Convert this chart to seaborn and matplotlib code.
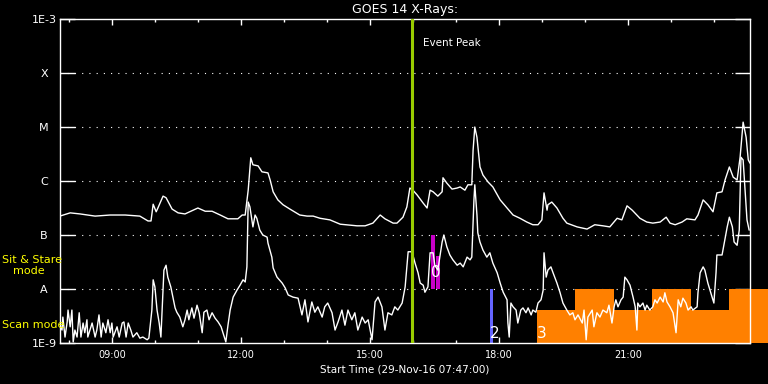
import numpy as np
import matplotlib
matplotlib.use("Agg")
import matplotlib.pyplot as plt
import matplotlib.ticker as mticker
import seaborn as sns

# GOES 14 long channel (1-8 A): hour of day, log10 flux (W/m^2)
long_hours = [7.78, 8.02, 8.25, 8.60, 8.95, 9.30, 9.64, 9.83, 9.90, 9.95,
              10.02, 10.06, 10.18, 10.25, 10.39, 10.53, 10.69, 10.99, 11.16, 11.32,
              11.51, 11.69, 11.92, 12.02, 12.09, 12.16, 12.22, 12.27, 12.39, 12.48,
              12.62, 12.67, 12.74, 12.85, 12.97, 13.13, 13.36, 13.53, 13.67, 13.83,
              14.06, 14.30, 14.69, 14.88, 15.06, 15.23, 15.34, 15.53, 15.62, 15.76,
              15.85, 15.92, 15.99, 16.09, 16.23, 16.32, 16.39, 16.46, 16.57, 16.67,
              16.69, 16.78, 16.90, 17.02, 17.09, 17.20, 17.27, 17.36, 17.39, 17.43,
              17.48, 17.55, 17.62, 17.74, 17.85, 18.02, 18.18, 18.32, 18.48, 18.64,
              18.78, 18.90, 18.99, 19.04, 19.11, 19.13, 19.22, 19.34, 19.48, 19.57,
              19.81, 20.04, 20.22, 20.41, 20.57, 20.74, 20.85, 20.97, 21.09, 21.27,
              21.43, 21.57, 21.74, 21.88, 21.97, 22.09, 22.25, 22.36, 22.55, 22.62,
              22.74, 22.85, 22.97, 23.06, 23.18, 23.25, 23.35, 23.44, 23.53, 23.60,
              23.67, 23.74, 23.79, 23.83]
long_logflux = [-6.65, -6.59, -6.61, -6.65, -6.63, -6.63, -6.65, -6.74, -6.74, -6.43,
                -6.57, -6.50, -6.28, -6.31, -6.52, -6.59, -6.61, -6.50, -6.56, -6.56,
                -6.63, -6.70, -6.70, -6.63, -6.63, -6.17, -5.57, -5.70, -5.72, -5.83,
                -5.85, -5.98, -6.20, -6.35, -6.44, -6.52, -6.63, -6.65, -6.65, -6.69,
                -6.72, -6.80, -6.83, -6.83, -6.78, -6.63, -6.70, -6.78, -6.78, -6.67,
                -6.48, -6.13, -6.17, -6.26, -6.41, -6.50, -6.17, -6.20, -6.28, -6.20,
                -5.94, -6.04, -6.15, -6.13, -6.11, -6.17, -6.07, -6.07, -5.43, -5.00,
                -5.19, -5.74, -5.89, -6.02, -6.11, -6.35, -6.50, -6.63, -6.69, -6.76,
                -6.81, -6.81, -6.72, -6.22, -6.54, -6.44, -6.39, -6.50, -6.69, -6.78,
                -6.85, -6.89, -6.81, -6.83, -6.85, -6.69, -6.72, -6.46, -6.54, -6.69,
                -6.76, -6.78, -6.76, -6.67, -6.78, -6.81, -6.76, -6.70, -6.72, -6.63,
                -6.35, -6.44, -6.57, -6.22, -6.20, -5.98, -5.74, -5.93, -5.98, -5.56,
                -4.91, -5.19, -5.61, -5.67]

# GOES 14 short channel (0.5-4 A)
short_hours = [7.78, 7.83, 7.85, 7.90, 7.95, 7.97, 8.02, 8.06, 8.09, 8.13,
               8.18, 8.23, 8.27, 8.32, 8.36, 8.41, 8.43, 8.48, 8.53, 8.60,
               8.64, 8.69, 8.74, 8.78, 8.85, 8.90, 8.95, 8.99, 9.02, 9.11,
               9.16, 9.23, 9.27, 9.32, 9.37, 9.43, 9.48, 9.57, 9.64, 9.71,
               9.81, 9.85, 9.92, 9.95, 9.99, 10.04, 10.09, 10.13, 10.18, 10.20,
               10.25, 10.29, 10.36, 10.41, 10.46, 10.50, 10.57, 10.64, 10.69, 10.74,
               10.78, 10.85, 10.90, 10.97, 11.02, 11.09, 11.13, 11.20, 11.25, 11.32,
               11.39, 11.46, 11.53, 11.57, 11.64, 11.69, 11.74, 11.81, 11.90, 11.97,
               12.04, 12.09, 12.13, 12.16, 12.20, 12.27, 12.32, 12.36, 12.43, 12.50,
               12.60, 12.62, 12.71, 12.74, 12.83, 12.95, 13.02, 13.09, 13.20, 13.32,
               13.41, 13.48, 13.55, 13.64, 13.71, 13.78, 13.88, 13.94, 14.01, 14.11,
               14.18, 14.25, 14.34, 14.41, 14.48, 14.57, 14.64, 14.71, 14.81, 14.88,
               14.95, 15.04, 15.11, 15.18, 15.27, 15.34, 15.41, 15.50, 15.57, 15.64,
               15.74, 15.81, 15.88, 15.97, 16.04, 16.11, 16.16, 16.23, 16.27, 16.34,
               16.39, 16.46, 16.50, 16.57, 16.67, 16.71, 16.78, 16.85, 16.92, 17.02,
               17.09, 17.16, 17.25, 17.32, 17.36, 17.41, 17.43, 17.48, 17.50, 17.55,
               17.62, 17.71, 17.78, 17.85, 17.95, 18.02, 18.09, 18.18, 18.20, 18.23,
               18.27, 18.32, 18.39, 18.43, 18.50, 18.55, 18.62, 18.67, 18.74, 18.78,
               18.85, 18.90, 18.97, 19.02, 19.04, 19.09, 19.13, 19.20, 19.25, 19.34,
               19.41, 19.48, 19.57, 19.64, 19.71, 19.76, 19.83, 19.93, 19.97, 20.02,
               20.06, 20.16, 20.20, 20.27, 20.34, 20.41, 20.50, 20.55, 20.62, 20.67,
               20.71, 20.76, 20.83, 20.88, 20.92, 20.97, 21.04, 21.11, 21.16, 21.20,
               21.22, 21.27, 21.34, 21.39, 21.43, 21.50, 21.57, 21.62, 21.67, 21.74,
               21.81, 21.85, 21.90, 21.97, 22.04, 22.11, 22.16, 22.22, 22.27, 22.34,
               22.39, 22.46, 22.50, 22.60, 22.62, 22.67, 22.74, 22.78, 22.85, 22.95,
               22.99, 23.04, 23.06, 23.18, 23.23, 23.30, 23.35, 23.42, 23.46, 23.53,
               23.58, 23.62, 23.67, 23.72, 23.76, 23.81]
short_logflux = [-8.67, -8.76, -8.52, -8.89, -8.61, -8.39, -8.70, -8.39, -8.98, -8.76,
                 -8.89, -8.44, -8.89, -8.63, -8.81, -8.57, -8.89, -8.76, -8.63, -8.89,
                 -8.76, -8.48, -8.89, -8.63, -8.81, -8.57, -8.81, -8.63, -8.89, -8.70,
                 -8.89, -8.63, -8.61, -8.89, -8.63, -8.76, -8.89, -8.81, -8.91, -8.89,
                 -8.94, -8.91, -8.39, -7.83, -7.96, -8.39, -8.63, -8.89, -8.02, -7.65,
                 -7.56, -7.78, -7.96, -8.15, -8.35, -8.43, -8.52, -8.70, -8.57, -8.39,
                 -8.57, -8.35, -8.54, -8.30, -8.44, -8.81, -8.43, -8.39, -8.57, -8.44,
                 -8.54, -8.61, -8.70, -8.80, -8.98, -8.67, -8.39, -8.15, -8.02, -7.93,
                 -7.83, -7.87, -7.59, -6.39, -6.48, -6.85, -6.63, -6.69, -6.91, -7.00,
                 -7.04, -7.15, -7.41, -7.61, -7.78, -7.89, -7.98, -8.11, -8.15, -8.17,
                 -8.48, -8.20, -8.61, -8.24, -8.43, -8.33, -8.52, -8.33, -8.26, -8.44,
                 -8.76, -8.61, -8.39, -8.67, -8.39, -8.57, -8.44, -8.76, -8.52, -8.63,
                 -8.57, -8.94, -8.24, -8.15, -8.33, -8.76, -8.44, -8.48, -8.33, -8.39,
                 -8.26, -7.96, -7.31, -7.31, -7.52, -7.70, -7.89, -7.93, -8.06, -7.96,
                 -7.33, -7.33, -7.56, -7.65, -7.13, -7.00, -7.22, -7.37, -7.46, -7.56,
                 -7.52, -7.59, -7.41, -7.46, -7.41, -6.35, -6.07, -6.63, -6.96, -7.13,
                 -7.28, -7.41, -7.33, -7.52, -7.70, -7.89, -8.06, -8.20, -8.63, -8.89,
                 -8.26, -8.33, -8.39, -8.63, -8.39, -8.35, -8.44, -8.35, -8.48, -8.39,
                 -8.43, -8.26, -8.20, -8.02, -7.33, -7.78, -7.65, -7.59, -7.70, -7.89,
                 -8.06, -8.26, -8.39, -8.48, -8.44, -8.57, -8.48, -8.63, -8.39, -8.94,
                 -8.52, -8.39, -8.70, -8.44, -8.52, -8.39, -8.44, -8.30, -8.63, -8.33,
                 -8.20, -8.33, -8.20, -8.15, -7.78, -7.83, -7.93, -8.15, -8.33, -8.76,
                 -8.26, -8.33, -8.26, -8.39, -8.30, -8.39, -8.33, -8.20, -8.26, -8.15,
                 -8.24, -8.07, -8.24, -8.33, -8.44, -8.81, -8.20, -8.33, -8.17, -8.26,
                 -8.39, -8.33, -8.39, -8.33, -8.07, -7.70, -7.59, -7.65, -7.89, -8.15,
                 -8.26, -7.70, -7.37, -7.37, -7.15, -6.85, -6.67, -6.85, -7.13, -7.19,
                 -6.91, -5.56, -5.61, -6.22, -6.72, -6.91]

start_hour = 7 + 47 / 60
end_hour = 23.83
peak_hour = 15.97

# observation markers (sit & stare = 0, scan = 2, 3)
obs0_start = [16.42, 16.52]
obs0_end = [16.50, 16.61]
obs0_top = [-7.00, -7.39]
obs2_start = [17.78]
obs2_end = [17.85]
scan_edges = [18.87, 19.76, 20.67, 21.55, 22.46, 23.35, 24.25]
scan_levels = [-8.39, -8.00, -8.39, -8.00, -8.39, -8.00]

ytick_exp = [-9, -8, -7, -6, -5, -4, -3]
ytick_labels = ["1E-9", "A", "B", "C", "M", "X", "1E-3"]
xtick_hours = [9, 12, 15, 18, 21]
xtick_labels = ["09:00", "12:00", "15:00", "18:00", "21:00"]
xminor_hours = list(range(8, 24))

sns.set_theme(style="dark", rc={
    "figure.facecolor": "black", "axes.facecolor": "black",
    "axes.edgecolor": "white", "text.color": "white",
    "axes.labelcolor": "white", "xtick.color": "white",
    "ytick.color": "white", "axes.grid": False,
})
plt.rcParams["font.family"] = ["DejaVu Sans"]

fig = plt.figure(figsize=(7.68, 3.84), dpi=100)
ax = fig.add_axes([60 / 768, 41 / 384, 690 / 768, 324 / 384])
ax.set_yscale("log")

# scan-mode blocks (run past the right edge like the original)
fill_levels = 10.0 ** np.array(scan_levels + [scan_levels[-1]])
ax.fill_between(scan_edges, fill_levels, 1e-9, step="post", color="#ff8000",
                linewidth=0, zorder=1.5, clip_on=False)

# sit & stare bars and the short blue scan bar
ax.bar(obs0_start, 10.0 ** np.array(obs0_top) - 1e-8,
       width=np.subtract(obs0_end, obs0_start), bottom=1e-8, align="edge",
       color="#c800c8", linewidth=0, zorder=2)
ax.bar(obs2_start, [1e-8 - 1e-9], width=np.subtract(obs2_end, obs2_start),
       bottom=1e-9, align="edge", color="#6464ff", linewidth=0, zorder=2)

for e in ytick_exp[1:-1]:
    ax.axhline(10.0 ** e, color="white", lw=0.8, ls=(0, (1, 5.5)), zorder=1)

sns.lineplot(x=long_hours, y=10.0 ** np.array(long_logflux), ax=ax,
             color="white", linewidth=1.0, estimator=None, sort=False, zorder=3)
sns.lineplot(x=short_hours, y=10.0 ** np.array(short_logflux), ax=ax,
             color="white", linewidth=1.0, estimator=None, sort=False, zorder=3)

ax.axvline(peak_hour, color="#99cc00", lw=2.2, zorder=4)
ax.annotate("Event Peak", xy=(peak_hour, 1e-3), xytext=(11, -24),
            textcoords="offset pixels", fontsize=7.5, color="white",
            ha="left", va="center")

ax.text(obs0_start[0], 10 ** -7.69, "0", fontsize=11, color="white",
        ha="left", va="center", zorder=5)
ax.text(obs2_start[0], 10 ** -8.82, "2", fontsize=11, color="white",
        ha="left", va="center", zorder=5)
ax.text(scan_edges[0], 10 ** -8.82, "3", fontsize=11, color="white",
        ha="left", va="center", zorder=5)

ax.set_xlim(start_hour, end_hour)
ax.set_ylim(1e-9, 1e-3)
ax.xaxis.set_major_locator(mticker.FixedLocator(xtick_hours))
ax.xaxis.set_minor_locator(mticker.FixedLocator(xminor_hours))
ax.set_xticklabels(xtick_labels)
ax.yaxis.set_major_locator(mticker.FixedLocator([10.0 ** e for e in ytick_exp]))
ax.yaxis.set_minor_locator(mticker.NullLocator())
ax.set_yticklabels(ytick_labels)
for lbl in ax.get_yticklabels():
    lbl.set_ha("center")

ax.tick_params(axis="x", which="major", direction="in", length=4.5, width=1,
               bottom=True, top=True, labelsize=7, pad=5)
ax.tick_params(axis="x", which="minor", direction="in", length=2.2, width=1,
               bottom=True, top=True)
ax.tick_params(axis="y", which="major", direction="in", length=10.8, width=1,
               left=True, right=True, labelsize=8, pad=11.5)

for s in ax.spines.values():
    s.set_visible(True)
    s.set_color("white")
    s.set_linewidth(1.0)

ax.set_title("GOES 14 X-Rays:", fontsize=9, pad=4, color="white")
ax.set_xlabel("Start Time (29-Nov-16 07:47:00)", fontsize=7.5, labelpad=3)

fig.text(2 / 768, 1 - 263 / 384, "Sit & Stare", color="yellow", fontsize=8,
         ha="left", va="baseline")
fig.text(13 / 768, 1 - 274 / 384, "mode", color="yellow", fontsize=8,
         ha="left", va="baseline")
fig.text(2 / 768, 1 - 328 / 384, "Scan mode", color="yellow", fontsize=8,
         ha="left", va="baseline")

fig.savefig("out.png", dpi=100, facecolor="black")
